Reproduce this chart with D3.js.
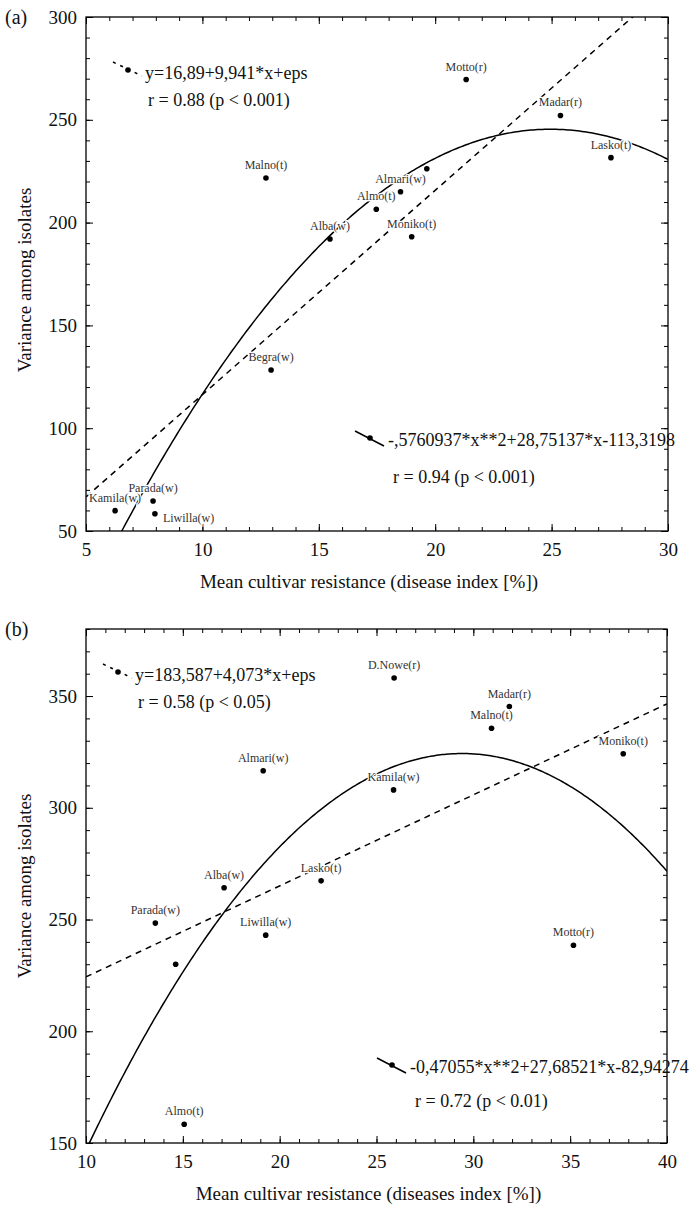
<!DOCTYPE html>
<html>
<head>
<meta charset="utf-8">
<script src="https://cdn.jsdelivr.net/npm/d3@7"></script>
<style>
  body { margin: 0; background: #fff; }
</style>
</head>
<body>
<div id="chart"></div>
<script>
// panel (a)
const namesA = ["Kamila(w)", "Parada(w)", "Liwilla(w)", "Begra(w)", "Malno(t)", "Alba(w)", "Almo(t)", "Almari(w)", "", "Moniko(t)", "Motto(r)", "Madar(r)", "Lasko(t)"];
const xA = [6.25, 7.88, 7.96, 12.95, 12.73, 15.48, 17.47, 18.51, 19.64, 18.99, 21.33, 25.38, 27.55];
const yA = [59.9, 64.6, 58.4, 128.3, 221.7, 192.0, 206.5, 215.0, 226.2, 193.1, 269.6, 252.1, 231.6];
const linA = [16.89, 9.941];
const quadA = [-0.5760937, 28.75137, -113.3198];
const xTicksA = [5, 10, 15, 20, 25, 30];
const yTicksA = [50, 100, 150, 200, 250, 300];
const linTextA = ["y=16,89+9,941*x+eps", "r = 0.88 (p < 0.001)"];
const quadTextA = ["-,5760937*x**2+28,75137*x-113,3198", "r = 0.94 (p < 0.001)"];

// panel (b)
const namesB = ["Parada(w)", "", "Almo(t)", "Alba(w)", "Almari(w)", "Liwilla(w)", "Lasko(t)", "Kamila(w)", "D.Nowe(r)", "Malno(t)", "Madar(r)", "Motto(r)", "Moniko(t)"];
const xB = [13.58, 14.63, 15.07, 17.13, 19.15, 19.28, 22.14, 25.88, 25.91, 30.94, 31.86, 35.17, 37.74];
const yB = [248.4, 230.0, 158.4, 264.2, 316.6, 243.0, 267.3, 308.0, 358.1, 335.6, 345.3, 238.5, 324.2];
const linB = [183.587, 4.073];
const quadB = [-0.47055, 27.68521, -82.94274];
const xTicksB = [10, 15, 20, 25, 30, 35, 40];
const yTicksB = [150, 200, 250, 300, 350];
const linTextB = ["y=183,587+4,073*x+eps", "r = 0.58 (p < 0.05)"];
const quadTextB = ["-0,47055*x**2+27,68521*x-82,94274", "r = 0.72 (p < 0.01)"];

const FONT = "Liberation Serif";
const W = 693, H = 1207;
const svg = d3.select("#chart").append("svg")
    .attr("width", W)
    .attr("height", H)
    .attr("font-family", FONT);

function drawPanel(p) {
    const x = d3.scaleLinear(p.xDomain, [p.left, p.right]);
    const y = d3.scaleLinear(p.yDomain, [p.bottom, p.top]);
    const g = svg.append("g");

    g.append("clipPath").attr("id", p.id + "clip")
        .append("rect")
        .attr("x", p.left).attr("y", p.top)
        .attr("width", p.right - p.left).attr("height", p.bottom - p.top);

    // minor / major ticks, all pointing inward
    const xMinor = d3.range(p.xDomain[0], p.xDomain[1] + 0.001, 1);
    const yMinor = d3.range(p.yDomain[0], p.yDomain[1] + 0.001, 10);

    g.append("g").attr("transform", `translate(0,${p.bottom})`)
        .call(d3.axisBottom(x).tickValues(xMinor).tickSize(-4).tickFormat(""));
    g.append("g").attr("transform", `translate(0,${p.top})`)
        .call(d3.axisTop(x).tickValues(xMinor).tickSize(-4).tickFormat(""));
    g.append("g").attr("transform", `translate(${p.left},0)`)
        .call(d3.axisLeft(y).tickValues(yMinor).tickSize(-4).tickFormat(""));
    g.append("g").attr("transform", `translate(${p.right},0)`)
        .call(d3.axisRight(y).tickValues(yMinor).tickSize(-4).tickFormat(""));

    g.append("g").attr("transform", `translate(0,${p.bottom})`)
        .call(d3.axisBottom(x).tickValues(p.xTicks).tickSize(-7).tickPadding(12));
    g.append("g").attr("transform", `translate(0,${p.top})`)
        .call(d3.axisTop(x).tickValues(p.xTicks).tickSize(-7).tickFormat(""));
    g.append("g").attr("transform", `translate(${p.left},0)`)
        .call(d3.axisLeft(y).tickValues(p.yTicks).tickSize(-7).tickPadding(9));
    g.append("g").attr("transform", `translate(${p.right},0)`)
        .call(d3.axisRight(y).tickValues(p.yTicks).tickSize(-7).tickFormat(""));

    g.selectAll(".domain").remove();
    g.selectAll(".tick line").attr("stroke", "#000").attr("stroke-width", 1);
    g.selectAll(".tick text")
        .attr("font-family", FONT)
        .attr("font-size", 19)
        .attr("fill", "#111");

    g.append("rect")
        .attr("x", p.left).attr("y", p.top)
        .attr("width", p.right - p.left).attr("height", p.bottom - p.top)
        .attr("fill", "none").attr("stroke", "#000").attr("stroke-width", 1.3);

    // fitted lines
    const fits = g.append("g").attr("clip-path", `url(#${p.id}clip)`);
    fits.append("line")
        .attr("x1", x(p.xDomain[0])).attr("y1", y(p.lin[0] + p.lin[1] * p.xDomain[0]))
        .attr("x2", x(p.xDomain[1])).attr("y2", y(p.lin[0] + p.lin[1] * p.xDomain[1]))
        .attr("stroke", "#000").attr("stroke-width", 1.5)
        .attr("stroke-dasharray", "6,5");

    const q = p.quad;
    const xs = d3.range(p.xDomain[0], p.xDomain[1] + 0.01, 0.1);
    fits.append("path")
        .datum(xs)
        .attr("d", d3.line().x(d => x(d)).y(d => y(q[0] * d * d + q[1] * d + q[2])))
        .attr("fill", "none").attr("stroke", "#000").attr("stroke-width", 1.5);

    // points + labels
    const pts = p.names.map((n, i) => ({name: n, x: p.xs[i], y: p.ys[i]}));
    g.append("g").selectAll("text")
        .data(pts.filter(d => d.name))
        .join("text")
        .attr("x", d => p.right_labels.includes(d.name) ? x(d.x) + 8 : x(d.x))
        .attr("y", d => p.right_labels.includes(d.name) ? y(d.y) + 8 : y(d.y) - 9)
        .attr("text-anchor", d => p.right_labels.includes(d.name) ? "start" : "middle")
        .attr("font-size", 12)
        .attr("fill", "#333")
        .attr("stroke", "#fff").attr("stroke-width", 2.5)
        .attr("paint-order", "stroke")
        .text(d => d.name);

    g.append("g").selectAll("circle")
        .data(pts)
        .join("circle")
        .attr("cx", d => x(d.x))
        .attr("cy", d => y(d.y))
        .attr("r", 2.8)
        .attr("fill", "#000");

    // legend samples
    const l1 = p.linKey, l2 = p.quadKey;
    g.append("line")
        .attr("x1", l1[0]).attr("y1", l1[1]).attr("x2", l1[0] + 29).attr("y2", l1[1] + 14)
        .attr("stroke", "#000").attr("stroke-width", 1.5).attr("stroke-dasharray", "3,5");
    g.append("circle").attr("cx", l1[0] + 15).attr("cy", l1[1] + 8).attr("r", 2.8);
    g.append("text").attr("x", l1[0] + 32).attr("y", l1[1] + 17)
        .attr("font-size", 18).attr("fill", "#111").text(p.linText[0]);
    g.append("text").attr("x", l1[0] + 35).attr("y", l1[1] + 44)
        .attr("font-size", 18).attr("fill", "#111").text(p.linText[1]);

    g.append("line")
        .attr("x1", l2[0]).attr("y1", l2[1]).attr("x2", l2[0] + 29).attr("y2", l2[1] + 15)
        .attr("stroke", "#000").attr("stroke-width", 1.5);
    g.append("circle").attr("cx", l2[0] + 15).attr("cy", l2[1] + 7).attr("r", 2.8);
    g.append("text").attr("x", l2[0] + 33).attr("y", l2[1] + 15)
        .attr("font-size", 18).attr("fill", "#111").text(p.quadText[0]);
    g.append("text").attr("x", l2[0] + 38).attr("y", l2[1] + p.rGap)
        .attr("font-size", 18).attr("fill", "#111").text(p.quadText[1]);

    // titles
    g.append("text")
        .attr("transform", `translate(31,${p.yTitleY}) rotate(-90)`)
        .attr("text-anchor", "middle")
        .attr("font-size", 19).attr("fill", "#111")
        .text("Variance among isolates");
    g.append("text")
        .attr("x", (p.left + p.right) / 2 - 8)
        .attr("y", p.bottom + 57)
        .attr("text-anchor", "middle")
        .attr("font-size", 19).attr("fill", "#111")
        .text(p.xTitle);
    g.append("text")
        .attr("x", 5).attr("y", p.top + 7)
        .attr("font-size", 20).attr("fill", "#111")
        .text(p.tag);
}

drawPanel({
    id: "a", tag: "(a)",
    names: namesA, xs: xA, ys: yA, lin: linA, quad: quadA,
    xDomain: [5, 30], yDomain: [50, 300], xTicks: xTicksA, yTicks: yTicksA,
    left: 86, right: 668, top: 17, bottom: 531,
    right_labels: ["Liwilla(w)"],
    linText: linTextA, quadText: quadTextA,
    linKey: [113, 62], quadKey: [355, 431], rGap: 52,
    yTitleY: 280,
    xTitle: "Mean cultivar resistance (disease index [%])"
});

drawPanel({
    id: "b", tag: "(b)",
    names: namesB, xs: xB, ys: yB, lin: linB, quad: quadB,
    xDomain: [10, 40], yDomain: [150, 380], xTicks: xTicksB, yTicks: yTicksB,
    left: 86, right: 667, top: 629, bottom: 1143,
    right_labels: [],
    linText: linTextB, quadText: quadTextB,
    linKey: [103, 664], quadKey: [377, 1058], rGap: 49,
    yTitleY: 886,
    xTitle: "Mean cultivar resistance (diseases index [%])"
});
</script>
</body>
</html>
